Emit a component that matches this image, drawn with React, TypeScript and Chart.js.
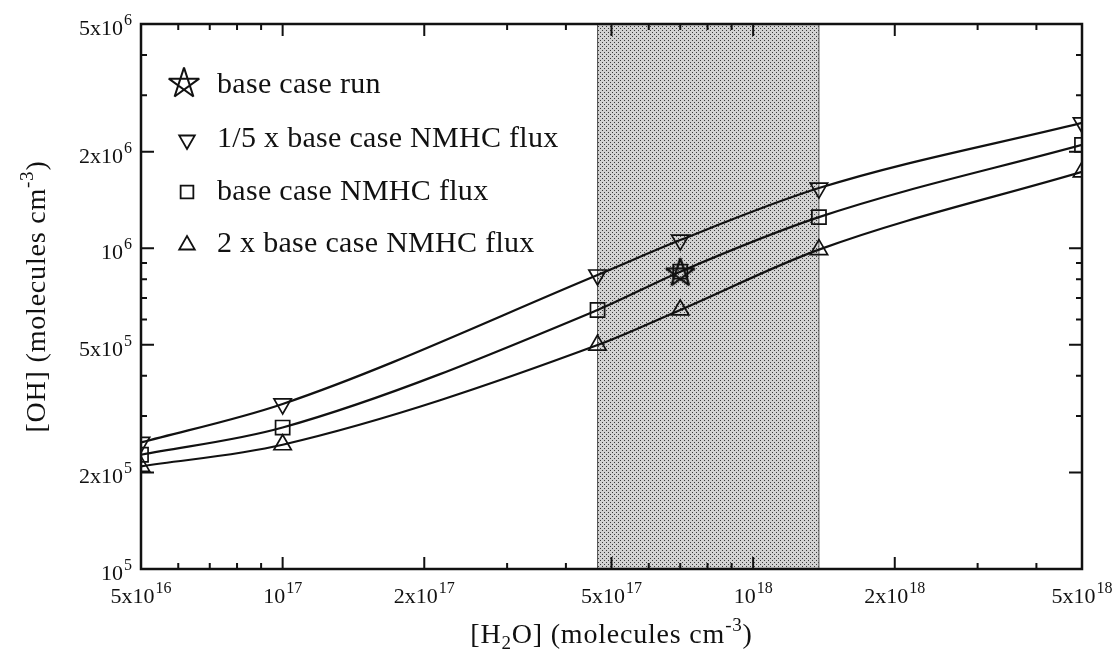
import React, { useEffect, useRef } from 'react';
import { Chart, registerables } from 'chart.js';

Chart.register(...registerables);

// ---------- data ----------
const h2o = [5e16, 1e17, 4.67e17, 7.0e17, 1.38e18, 5e18];
const ohLowNmhc = [2.48e5, 3.27e5, 8.25e5, 1.06e6, 1.54e6, 2.46e6];
const ohBase = [2.27e5, 2.76e5, 6.42e5, 8.45e5, 1.25e6, 2.1e6];
const ohHighNmhc = [2.09e5, 2.44e5, 4.99e5, 6.42e5, 9.9e5, 1.73e6];
const baseRunX = [7.0e17];
const baseRunY = [8.45e5];
const shadeRange = [4.67e17, 1.38e18];

const xMajor = [5e16, 1e17, 2e17, 5e17, 1e18, 2e18, 5e18];
const xMajorLabels = [
  ['5x10', '16'], ['10', '17'], ['2x10', '17'], ['5x10', '17'], ['10', '18'], ['2x10', '18'], ['5x10', '18'],
];
const xMinor = [6e16, 7e16, 8e16, 9e16, 3e17, 4e17, 6e17, 7e17, 8e17, 9e17, 3e18, 4e18];
const yMajor = [1e5, 2e5, 5e5, 1e6, 2e6, 5e6];
const yMajorLabels = [['10', '5'], ['2x10', '5'], ['5x10', '5'], ['10', '6'], ['2x10', '6'], ['5x10', '6']];
const yMinor = [3e5, 4e5, 6e5, 7e5, 8e5, 9e5, 3e6, 4e6];

const legendLabels = ['base case run', '1/5 x base case NMHC flux', 'base case NMHC flux', '2 x base case NMHC flux'];
const xTitle = ['[H', '2', 'O] (molecules cm', '-3', ')'];
const yTitle = ['[OH] (molecules cm', '-3', ')'];

const FONT = '"Liberation Serif", "Times New Roman", serif';

function makeStar(r: number, lw: number): HTMLCanvasElement {
  const size = Math.ceil(2 * r + 2 * lw + 4);
  const c = document.createElement('canvas');
  c.width = size;
  c.height = size;
  const g = c.getContext('2d')!;
  const cx = size / 2;
  const cy = size / 2 + r * 0.1;
  g.strokeStyle = '#111';
  g.lineWidth = lw;
  g.lineJoin = 'miter';
  g.miterLimit = 3;
  g.beginPath();
  for (let k = 0; k < 5; k++) {
    const a = -Math.PI / 2 + (k * 4 * Math.PI) / 5;
    const px = cx + r * Math.cos(a);
    const py = cy + r * Math.sin(a);
    if (k === 0) g.moveTo(px, py);
    else g.lineTo(px, py);
  }
  g.closePath();
  g.stroke();
  return c;
}

function drawSup(ctx: CanvasRenderingContext2D, base: string, sup: string, x: number, y: number, align: string) {
  ctx.font = `22px ${FONT}`;
  const wb = ctx.measureText(base).width;
  ctx.font = `16px ${FONT}`;
  const ws = ctx.measureText(sup).width;
  const total = wb + 1 + ws;
  const start = align === 'center' ? x - total / 2 : align === 'right' ? x - total : x;
  ctx.textAlign = 'left';
  ctx.textBaseline = 'alphabetic';
  ctx.font = `22px ${FONT}`;
  ctx.fillText(base, start, y);
  ctx.font = `16px ${FONT}`;
  ctx.fillText(sup, start + wb + 1, y - 10);
}

function drawRich(ctx: CanvasRenderingContext2D, parts: [string, number][], cx: number, y: number) {
  const widths: number[] = [];
  let total = 0;
  (ctx as any).letterSpacing = '0.8px';
  for (const [t, k] of parts) {
    ctx.font = k === 0 ? `28px ${FONT}` : `19px ${FONT}`;
    const w = ctx.measureText(t).width;
    widths.push(w);
    total += w;
  }
  let x = cx - total / 2;
  ctx.textAlign = 'left';
  ctx.textBaseline = 'alphabetic';
  parts.forEach(([t, k], i) => {
    ctx.font = k === 0 ? `28px ${FONT}` : `19px ${FONT}`;
    const dy = k === 1 ? 6 : k === -1 ? -12 : 0;
    ctx.fillText(t, x, y + dy);
    x += widths[i];
  });
  (ctx as any).letterSpacing = '0px';
}

function drawMarker(ctx: CanvasRenderingContext2D, kind: string, x: number, y: number, r: number) {
  ctx.beginPath();
  if (kind === 'rect') {
    const s = Math.SQRT1_2 * r;
    ctx.rect(x - s, y - s, 2 * s, 2 * s);
  } else {
    const dir = kind === 'down' ? -1 : 1;
    const w = r * Math.sin((2 * Math.PI) / 3);
    ctx.moveTo(x, y - dir * r);
    ctx.lineTo(x + w, y + (dir * r) / 2);
    ctx.lineTo(x - w, y + (dir * r) / 2);
    ctx.closePath();
  }
  ctx.stroke();
}

export default function App() {
  const ref = useRef<HTMLCanvasElement>(null);

  useEffect(() => {
    const canvas = ref.current!;
    const starImg = makeStar(15, 2.4);
    const legendStar = makeStar(16, 2);

    const tile = document.createElement('canvas');
    tile.width = 4;
    tile.height = 4;
    const tg = tile.getContext('2d')!;
    tg.fillStyle = '#d2d2d2';
    tg.fillRect(0, 0, 4, 4);
    tg.fillStyle = '#3a3a3a';
    tg.fillRect(0, 0, 1, 1);
    tg.fillRect(2, 2, 1, 1);

    const overlay = {
      id: 'overlay',
      beforeDatasetsDraw(chart: any) {
        const { ctx, chartArea, scales } = chart;
        const x0 = scales.x.getPixelForValue(shadeRange[0]);
        const x1 = scales.x.getPixelForValue(shadeRange[1]);
        ctx.save();
        ctx.fillStyle = ctx.createPattern(tile, 'repeat');
        ctx.fillRect(x0, chartArea.top, x1 - x0, chartArea.bottom - chartArea.top);
        ctx.strokeStyle = '#555';
        ctx.lineWidth = 1;
        ctx.beginPath();
        ctx.moveTo(x0, chartArea.top);
        ctx.lineTo(x0, chartArea.bottom);
        ctx.moveTo(x1, chartArea.top);
        ctx.lineTo(x1, chartArea.bottom);
        ctx.stroke();
        ctx.restore();
      },
      afterDraw(chart: any) {
        const { ctx, chartArea, scales } = chart;
        const { left, right, top, bottom } = chartArea;
        ctx.save();
        ctx.strokeStyle = '#111';
        ctx.fillStyle = '#111';
        ctx.lineWidth = 2;
        ctx.beginPath();
        const xt = (v: number, len: number) => {
          const p = scales.x.getPixelForValue(v);
          ctx.moveTo(p, bottom);
          ctx.lineTo(p, bottom - len);
          ctx.moveTo(p, top);
          ctx.lineTo(p, top + len);
        };
        const yt = (v: number, len: number) => {
          const p = scales.y.getPixelForValue(v);
          ctx.moveTo(left, p);
          ctx.lineTo(left + len, p);
          ctx.moveTo(right, p);
          ctx.lineTo(right - len, p);
        };
        xMajor.forEach((v) => xt(v, 12));
        xMinor.forEach((v) => xt(v, 6));
        yMajor.forEach((v) => yt(v, 13));
        yMinor.forEach((v) => yt(v, 6));
        ctx.stroke();
        ctx.lineWidth = 2.5;
        ctx.strokeRect(left, top, right - left, bottom - top);
        xMajor.forEach((v, i) => {
          const p = scales.x.getPixelForValue(v);
          drawSup(ctx, xMajorLabels[i][0], xMajorLabels[i][1], p, bottom + 34, 'center');
        });
        yMajor.forEach((v, i) => {
          const p = scales.y.getPixelForValue(v);
          drawSup(ctx, yMajorLabels[i][0], yMajorLabels[i][1], left - 9, p + 11, 'right');
        });
        drawRich(
          ctx,
          [[xTitle[0], 0], [xTitle[1], 1], [xTitle[2], 0], [xTitle[3], -1], [xTitle[4], 0]],
          (left + right) / 2,
          643
        );
        ctx.save();
        ctx.translate(45, (top + bottom) / 2);
        ctx.rotate(-Math.PI / 2);
        drawRich(ctx, [[yTitle[0], 0], [yTitle[1], -1], [yTitle[2], 0]], 0, 0);
        ctx.restore();
        // legend
        const lx = 187;
        const tx = 217;
        ctx.drawImage(legendStar, lx - legendStar.width / 2 - 3, 82 - legendStar.height / 2);
        ctx.lineWidth = 1.8;
        drawMarker(ctx, 'down', lx, 140, 9);
        drawMarker(ctx, 'rect', lx, 192, 9);
        drawMarker(ctx, 'up', lx, 245, 9);
        (ctx as any).letterSpacing = '0.3px';
        ctx.font = `30px ${FONT}`;
        ctx.textAlign = 'left';
        ctx.textBaseline = 'alphabetic';
        const baselines = [93, 147, 200, 252];
        legendLabels.forEach((t, i) => ctx.fillText(t, tx, baselines[i]));
        (ctx as any).letterSpacing = '0px';
        ctx.restore();
      },
    };

    const mk = (ys: number[]) => h2o.map((x, i) => ({ x, y: ys[i] }));
    const common = {
      borderColor: '#111',
      borderWidth: 2.2,
      pointBorderColor: '#111',
      pointBackgroundColor: 'rgba(0,0,0,0)',
      pointBorderWidth: 1.7,
      pointRadius: 10,
      cubicInterpolationMode: 'monotone' as const,
      fill: false,
    };

    const chart = new Chart(canvas, {
      type: 'line',
      data: {
        datasets: [
          {
            label: legendLabels[0],
            data: baseRunX.map((x, i) => ({ x, y: baseRunY[i] })),
            showLine: false,
            pointStyle: starImg as any,
            pointRadius: 15,
            borderColor: '#111',
          },
          { label: legendLabels[1], data: mk(ohLowNmhc), pointStyle: 'triangle', pointRotation: 180, ...common },
          { label: legendLabels[2], data: mk(ohBase), pointStyle: 'rect', ...common },
          { label: legendLabels[3], data: mk(ohHighNmhc), pointStyle: 'triangle', ...common },
        ],
      },
      options: {
        animation: false,
        responsive: false,
        devicePixelRatio: 1,
        layout: { autoPadding: false, padding: { left: 141, right: 37, top: 24, bottom: 81 } },
        plugins: { legend: { display: false }, tooltip: { enabled: false } },
        scales: {
          x: { type: 'logarithmic', min: 5e16, max: 5e18, display: false },
          y: { type: 'logarithmic', min: 1e5, max: 5e6, display: false },
        },
      },
      plugins: [overlay],
    });
    return () => chart.destroy();
  }, []);

  return (
    <div style={{ position: 'fixed', left: 0, top: 0, width: 1119, height: 650, background: '#fff' }}>
      <canvas ref={ref} width={1119} height={650} style={{ display: 'block' }} />
    </div>
  );
}
